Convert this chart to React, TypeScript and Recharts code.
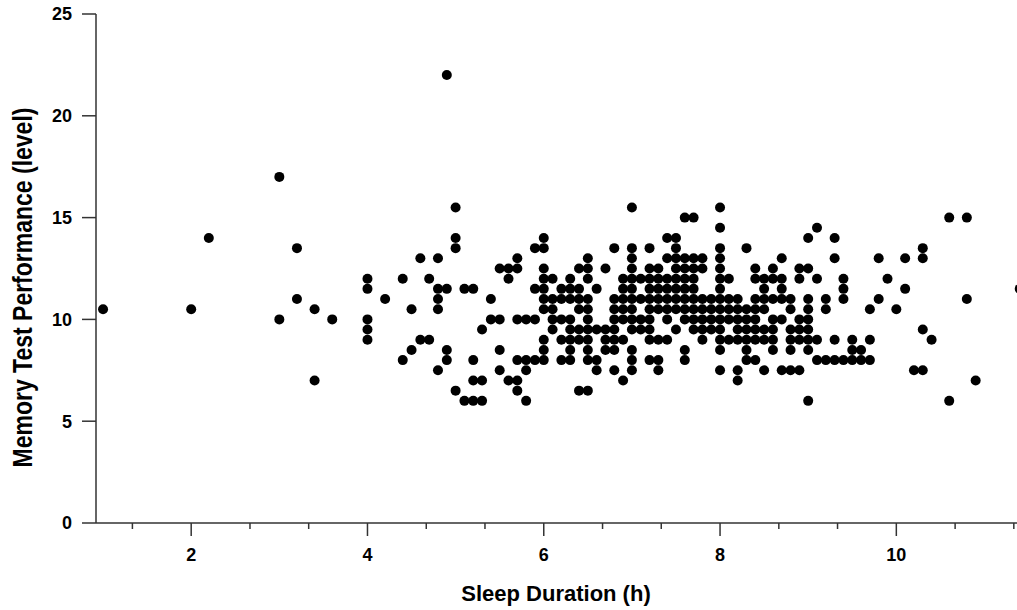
import React from 'react';
import { ScatterChart, Scatter, XAxis, YAxis, Label } from 'recharts';

// Sleep duration (h) for each column of points
const sleepHours: number[] = [
  1.0, 2.0, 2.2, 3.0, 3.2, 3.4, 3.6, 4.0, 4.2, 4.4, 4.5, 4.6, 4.7, 4.8, 4.9,
  5.0, 5.1, 5.2, 5.3, 5.4, 5.5, 5.6, 5.7, 5.8, 5.9, 6.0, 6.1, 6.2, 6.3, 6.4,
  6.5, 6.6, 6.7, 6.8, 6.9, 7.0, 7.1, 7.2, 7.3, 7.4, 7.5, 7.6, 7.7, 7.8, 7.9,
  8.0, 8.1, 8.2, 8.3, 8.4, 8.5, 8.6, 8.7, 8.8, 8.9, 9.0, 9.1, 9.2, 9.3, 9.4,
  9.5, 9.6, 9.7, 9.8, 9.9, 10.0, 10.1, 10.2, 10.3, 10.4, 10.6, 10.8, 10.9, 11.4,
];

// Memory test performance values observed at each sleep duration above
const memoryLevels: number[][] = [
  [10.5],
  [10.5],
  [14],
  [17, 10],
  [13.5, 11],
  [10.5, 7],
  [10],
  [12, 11.5, 10, 9.5, 9],
  [11],
  [12, 8],
  [10.5, 8.5],
  [13, 9],
  [12, 9],
  [13, 11.5, 11, 10.5, 7.5],
  [22, 11.5, 8.5, 8],
  [15.5, 14, 13.5, 6.5],
  [11.5, 6],
  [11.5, 8, 7, 6],
  [9.5, 7, 6],
  [11, 10],
  [12.5, 10, 8.5, 7.5],
  [12.5, 12, 7],
  [13, 12.5, 10, 8, 7, 6.5],
  [10, 8, 7.5, 6],
  [13.5, 11.5, 10, 8],
  [14, 13.5, 12.5, 12, 11.5, 11, 10.5, 9, 8.5, 8],
  [12, 11, 10.5, 10, 9.5],
  [11.5, 11, 10, 9, 8],
  [12, 11.5, 11, 10, 9.5, 9, 8.5, 8],
  [12.5, 11.5, 11, 10.5, 9.5, 9, 6.5],
  [13, 12.5, 12, 11, 10.5, 10, 9.5, 9, 8.5, 8, 6.5],
  [11.5, 9.5, 8, 7.5],
  [12.5, 9.5, 9, 8.5],
  [13.5, 11, 10.5, 10, 9.5, 9, 8.5, 7.5],
  [12, 11.5, 11, 10.5, 10, 9, 7],
  [15.5, 13.5, 13, 12.5, 12, 11.5, 11, 10.5, 10, 9.5, 8.5, 8, 7.5],
  [12, 11, 10, 9.5],
  [13.5, 12.5, 12, 11.5, 11, 10.5, 10, 9.5, 9, 8],
  [12.5, 12, 11.5, 11, 10.5, 9, 8, 7.5],
  [14, 13, 12, 11.5, 11, 10.5, 10, 9],
  [14, 13.5, 13, 12.5, 12, 11.5, 11, 10.5, 9.5],
  [15, 13, 12.5, 12, 11.5, 11, 10.5, 10, 8.5, 8],
  [15, 13, 12.5, 12, 11.5, 11, 10.5, 10, 9.5],
  [13, 12.5, 11, 10.5, 10, 9.5, 9],
  [11, 10.5, 10, 9.5],
  [15.5, 14.5, 13.5, 13, 12.5, 12, 11.5, 11, 10.5, 10, 9.5, 9, 8.5, 7.5],
  [12, 11, 10.5, 10, 9],
  [11, 10.5, 10, 9.5, 9, 7.5, 7],
  [13.5, 10.5, 10, 9.5, 9, 8.5, 8],
  [12.5, 12, 11, 10.5, 10, 9.5, 9, 8],
  [12, 11.5, 11, 10.5, 9.5, 9, 7.5],
  [12.5, 12, 11, 10, 9.5, 9, 8.5],
  [13, 12, 11.5, 11, 10, 7.5],
  [11, 10.5, 9.5, 9, 8.5, 7.5],
  [12.5, 12, 10, 9.5, 9, 7.5],
  [14, 12.5, 11, 10.5, 10, 9.5, 9, 8.5, 6],
  [14.5, 12, 9, 8],
  [11, 10.5, 8],
  [14, 13, 9, 8],
  [12, 11.5, 11, 8],
  [9, 8.5, 8],
  [8.5, 8],
  [10.5, 9, 8],
  [13, 11],
  [12],
  [10.5],
  [13, 11.5],
  [7.5],
  [13.5, 13, 9.5, 7.5],
  [9],
  [15, 6],
  [15, 11],
  [7],
  [11.5],
];

const xMajorTicks: number[] = [2, 4, 6, 8, 10];
const xMinorTicks: number[] = [1.333, 2.667, 3.333, 4.667, 5.333, 6.667, 7.333, 8.667, 9.333, 10.667, 11.333];
const yTicks: number[] = [0, 5, 10, 15, 20, 25];

const xTitle = 'Sleep Duration (h)';
const yTitle = 'Memory Test Performance (level)';

const points = sleepHours.flatMap((x, i) => memoryLevels[i].map((y) => ({ x, y })));
const allXTicks = [...xMajorTicks, ...xMinorTicks].sort((a, b) => a - b);

const FONT = '"Liberation Sans", Arial, Helvetica, sans-serif';
const AXIS_COLOR = '#333';

const XTick = (props: any) => {
  const { x, y, payload } = props;
  const v = payload.value;
  const major = xMajorTicks.includes(v);
  return (
    <g>
      <line x1={x} x2={x} y1={y} y2={y + (major ? 13 : 6)} stroke={AXIS_COLOR} strokeWidth={1.5} />
      {major && (
        <text x={x} y={y + 25} dy="0.71em" textAnchor="middle" fontFamily={FONT} fontWeight="bold" fontSize={18} fill="#000">
          {v}
        </text>
      )}
    </g>
  );
};

const YTick = (props: any) => {
  const { x, y, payload } = props;
  return (
    <text x={x} y={y} dy="0.355em" textAnchor="end" fontFamily={FONT} fontWeight="bold" fontSize={18} fill="#000">
      {payload.value}
    </text>
  );
};

const Dot = (props: any) => <circle cx={props.cx} cy={props.cy} r={5} fill="#000" />;

export default function App() {
  return (
    <div style={{ position: 'absolute', left: 0, top: 0, width: 1017, height: 610, overflow: 'hidden', background: '#fff' }}>
      <ScatterChart width={1040} height={610} margin={{ top: 14, right: 0, bottom: 0, left: 0 }}>
        <XAxis
          type="number"
          dataKey="x"
          domain={[0.92, 11.63]}
          allowDataOverflow
          ticks={allXTicks}
          interval={0}
          tickLine={false}
          tickSize={0}
          tickMargin={0}
          tick={<XTick />}
          height={87}
          axisLine={{ stroke: AXIS_COLOR, strokeWidth: 1.5 }}
        >
          <Label
            content={() => (
              <text x={556} y={601} textAnchor="middle" fontFamily={FONT} fontWeight="bold" fontSize={22} fill="#000">
                {xTitle}
              </text>
            )}
          />
        </XAxis>
        <YAxis
          type="number"
          dataKey="y"
          domain={[0, 25]}
          allowDataOverflow
          ticks={yTicks}
          interval={0}
          width={96}
          tickSize={14}
          tickMargin={10}
          tickLine={{ stroke: AXIS_COLOR, strokeWidth: 1.5 }}
          tick={<YTick />}
          axisLine={{ stroke: AXIS_COLOR, strokeWidth: 1.5 }}
        >
          <Label
            content={() => (
              <text
                x={0}
                y={0}
                transform="translate(31.5, 287.5) scale(1.2, 1) rotate(-90)"
                textAnchor="middle"
                fontFamily={FONT}
                fontWeight="bold"
                fontSize={23}
                fill="#000"
              >
                {yTitle}
              </text>
            )}
          />
        </YAxis>
        <Scatter data={points} shape={<Dot />} isAnimationActive={false} />
      </ScatterChart>
    </div>
  );
}
